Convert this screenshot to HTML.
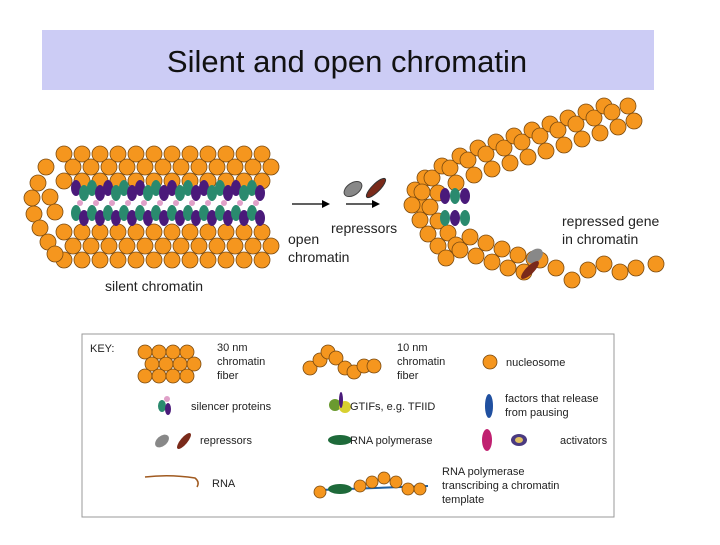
<!DOCTYPE html>
<html><head><meta charset="utf-8"><style>
body{margin:0;width:720px;height:540px;background:#fff;overflow:hidden;font-family:"Liberation Sans",sans-serif}
</style></head><body>
<svg id="s" width="720" height="540" xmlns="http://www.w3.org/2000/svg" font-family="Liberation Sans, sans-serif">
<rect x="42" y="30" width="612" height="60" fill="#ccccf5"/>
<text x="347" y="72" font-size="31" text-anchor="middle" fill="#111">Silent and open chromatin</text>
<g id="g"></g>
<line x1="292" y1="204" x2="322" y2="204" stroke="#000" stroke-width="1.2"/><path d="M322,200 L330,204 L322,208z"/>
<line x1="346" y1="204" x2="372" y2="204" stroke="#000" stroke-width="1.2"/><path d="M372,200 L380,204 L372,208z"/>
<ellipse cx="353" cy="189" rx="10" ry="6" transform="rotate(-35 353 189)" fill="#888" stroke="#444"/>
<ellipse cx="376" cy="188" rx="13" ry="4" transform="rotate(-45 376 188)" fill="#7a2a1a" stroke="#333"/>
<g font-size="14" fill="#222">
<text x="331" y="233">repressors</text>
<text x="288" y="244">open</text><text x="288" y="262">chromatin</text>
<text x="105" y="291">silent chromatin</text>
<text x="562" y="226">repressed gene</text><text x="562" y="244">in chromatin</text>
</g>
<rect x="82" y="334" width="532" height="183" fill="#fff" stroke="#999"/>
<g id="k"></g>
<g font-size="11" fill="#222">
<text x="90" y="352">KEY:</text>
<text x="217" y="351">30 nm</text><text x="217" y="365">chromatin</text><text x="217" y="379">fiber</text>
<text x="397" y="351">10 nm</text><text x="397" y="365">chromatin</text><text x="397" y="379">fiber</text>
<text x="506" y="366">nucleosome</text>
<text x="191" y="410">silencer proteins</text>
<text x="350" y="410">GTIFs, e.g. TFIID</text>
<text x="505" y="402">factors that release</text><text x="505" y="416">from pausing</text>
<text x="200" y="444">repressors</text>
<text x="350" y="444">RNA polymerase</text>
<text x="560" y="444">activators</text>
<text x="212" y="487">RNA</text>
<text x="442" y="475">RNA polymerase</text><text x="442" y="489">transcribing a chromatin</text><text x="442" y="503">template</text>
</g>
</svg>
<script>
var g=document.getElementById('g'),k=document.getElementById('k'),h='';
function c(x,y,r){h+='<circle cx="'+x+'" cy="'+y+'" r="'+(r||8)+'" fill="#f5961e" stroke="#7a4a10" stroke-width="0.8"/>';}
function e(x,y,col,rx,ry){h+='<ellipse cx="'+x+'" cy="'+y+'" rx="'+(rx||5)+'" ry="'+(ry||8)+'" fill="'+col+'"/>';}
// silent chromatin
var i,x;
for(i=0;i<12;i++){c(64+i*18,154);c(73+i*18,167);c(64+i*18,181);c(64+i*18,260);c(73+i*18,246);c(64+i*18,232);}
c(46,167);c(38,183);c(32,198);c(34,214);c(40,228);c(48,242);c(55,254);c(50,197);c(55,212);
for(i=0;i<12;i++){x=76+i*16;e(x,188,i%2?'#2a8a6e':'#4a1a7a');e(x+8,193,i%2?'#4a1a7a':'#2a8a6e');e(x,213,'#2a8a6e');e(x+8,218,'#4a1a7a');
h+='<circle cx="'+(x+4)+'" cy="203" r="3" fill="#e0a0c8"/>';}
// right structure
var up=[[415,190],[432,178],[450,168],[468,160],[486,154],[504,148],[522,142],[540,136],[558,130],[576,124],[594,118],[612,112],[628,106]];
up.forEach(function(p,j){c(p[0],p[1]);c(p[0]+6,p[1]+15);if(j<11)c(p[0]+10,p[1]-12);});
[[412,205],[420,220],[428,234],[438,246],[446,258],[460,250],[476,256],[492,262],[508,268],[524,272]].forEach(function(p){c(p[0],p[1]);c(p[0]+10,p[1]-13);});
[[540,260],[556,268],[572,280],[588,270],[604,264],[620,272],[636,268],[656,264]].forEach(function(p){c(p[0],p[1]);});
for(i=0;i<3;i++){e(445+i*10,196,i%2?'#2a8a6e':'#4a1a7a');e(445+i*10,218,i%2?'#4a1a7a':'#2a8a6e');}
h+='<ellipse cx="535" cy="256" rx="9" ry="6" transform="rotate(-40 535 256)" fill="#888"/><ellipse cx="530" cy="270" rx="12" ry="4" transform="rotate(-45 530 270)" fill="#7a2a1a"/>';
g.innerHTML=h;h='';
// key
[[145,352],[159,352],[173,352],[187,352],[152,364],[166,364],[180,364],[194,364],[145,376],[159,376],[173,376],[187,376]].forEach(function(p){c(p[0],p[1],7);});
[[310,368],[320,360],[328,352],[336,358],[345,368],[354,372],[364,366],[374,366]].forEach(function(p){c(p[0],p[1],7);});
c(490,362,7);
e(162,406,'#2a8a6e',4,6);e(168,409,'#4a1a7a',3,6);h+='<circle cx="167" cy="399" r="3" fill="#e0a0c8"/>';
h+='<circle cx="335" cy="405" r="6" fill="#6a9a30"/><circle cx="345" cy="407" r="6" fill="#d8d030"/>';e(341,400,'#4a1a7a',2,8);
e(489,406,'#2050a0',4,12);
h+='<ellipse cx="162" cy="441" rx="8" ry="5" transform="rotate(-40 162 441)" fill="#888"/><ellipse cx="184" cy="441" rx="10" ry="3.5" transform="rotate(-50 184 441)" fill="#7a2a1a"/>';
h+='<ellipse cx="340" cy="440" rx="12" ry="5" fill="#1e6a3a"/>';
e(487,440,'#c02070',5,11);h+='<ellipse cx="519" cy="440" rx="8" ry="6" fill="#4a3a80"/><ellipse cx="519" cy="440" rx="4" ry="3" fill="#e0c060"/>';
h+='<path d="M145,477 Q170,474 195,478 Q200,482 197,487" fill="none" stroke="#a05a20" stroke-width="1.5"/>';
h+='<line x1="320" y1="490" x2="428" y2="486" stroke="#2060a0" stroke-width="2"/><ellipse cx="340" cy="489" rx="12" ry="5" fill="#1e6a3a"/>';
[[320,492],[360,486],[372,482],[384,478],[396,482],[408,489],[420,489]].forEach(function(p){c(p[0],p[1],6);});
k.innerHTML=h;
</script>
</body></html>
